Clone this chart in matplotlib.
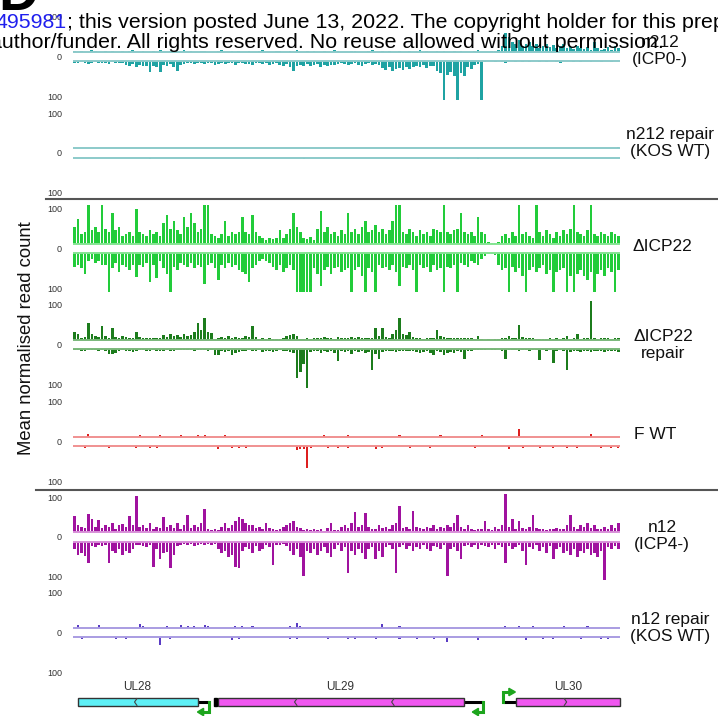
import numpy as np
import matplotlib
matplotlib.use("Agg")
import matplotlib.pyplot as plt
from matplotlib.patches import Rectangle, Polygon
from matplotlib.lines import Line2D

plt.rcParams['font.family'] = ['Liberation Sans', 'DejaVu Sans']

# ---------------------------------------------------------------- data
N_BINS = 160  # genome bins across the UL28-UL30 window

# Mean normalised read counts per bin (plus strand drawn up, minus strand down)
n212_plus = """
2 0 3 1 0 4 2 0 1 3  0 2 1 0 3 0 2 4 1 0  3 1 0 2 0 5 1 0 2 3  0 1 4 0 2 1 0 3 2 0
1 0 2 5 0 1 3 0 2 1  0 3 1 0 2 4 0 1 0 2  3 0 1 2 0 4 1 0 3 0  2 1 0 3 1 0 5 2 0 1
0 2 3 0 1 0 2 4 0 1  3 0 2 1 0 3 1 0 2 0  1 4 0 2 0 1 3 0 2 1  0 2 1 3 0 1 0 2 4 0
1 0 3 2 6 15 50 40 25 20  30 15 20 25 15 20 10 15 20 12  18 10 15 20 10 12 8 15 10 8
12 5 25 10 5 8 12 5 15 10
"""
n212_minus = """
4 6 3 5 8 4 3 6 5 4  7 3 5 4 6 10 12 8 15 10  12 14 28 12 15 28 10 12 8 15
25 10 8 6 5 8 4 6 8 6  5 10 7 5 8 6 4 9 6 5  8 7 10 6 5 8 6 9 7 5
10 12 8 15 25 12 10 14 8 12  10 8 15 10 12 9 11 8 6 8  10 7 5 9 12 8 6 10 7 9
18 22 15 25 20 18 24 16 20 15  12 15 10 18 12 14 25 30 100 35  28 40 100 30 40 15 20 10 8 100
2 0 1 3 0 2 5 1 0 2  1 3 0 2 0 1 3 0 2 1  0 2 5 1 0 1 3 0 2 1  0 2 1 0 3 1 0 2 1 0
"""
dicp22_plus = """
45 65 25 30 100 35 45 30 100 40  30 80 35 45 20 25 30 20 90 30  25 20 35 25 30 20 55 75 40 60
35 25 70 45 80 55 30 40 100 100  25 20 15 25 60 20 30 25 30 70  30 25 75 30 20 15 10 15 12 15
35 15 25 40 80 45 30 15 12 18  10 40 85 30 45 25 30 20 35 25  80 30 40 25 45 60 30 35 50 30
40 25 35 60 100 100 30 25 40 30  20 35 25 30 20 40 35 30 100 30  25 35 40 80 30 25 30 20 70 30
25 5 3 2 5 20 25 15 30 20  100 25 30 20 15 100 30 20 35 25  15 30 20 35 25 40 100 30 25 20
35 100 25 20 30 25 20 30 25 20
"""
dicp22_minus = """
35 30 40 55 20 15 25 20 30 30  100 40 25 50 30 35 45 30 62 30  35 25 75 30 65 20 40 55 100 35
45 25 30 35 25 40 30 35 80 30  25 40 70 30 40 25 35 30 45 50  55 75 40 30 20 15 20 25 35 45
30 50 40 30 45 100 100 100 100 100  40 55 85 45 35 55 40 35 50 45  40 100 45 35 60 100 40 50 100 30
40 35 45 30 50 85 35 40 30 45  100 30 40 35 50 30 45 40 100 35  40 30 100 25 30 35 20 25 30 15
8 3 2 5 30 45 40 100 35 50  40 60 100 45 35 50 40 30 55 45  100 50 45 40 100 60 100 55 45 60
70 50 100 55 45 60 40 50 100 45
"""
dicp22r_plus = """
20 15 5 8 43 15 10 8 35 10  5 32 8 6 10 8 6 5 20 8  5 4 5 6 4 5 12 8 15 10
12 8 15 10 12 20 45 25 57 20  18 3 5 8 4 10 5 8 4 6  10 8 35 8 3 5 3 4 2 3
2 5 10 12 15 10 3 2 4 3  5 6 4 8 5 6 3 8 5 6  4 7 5 8 6 5 6 4 32 10
32 8 6 15 25 57 15 12 20 8  5 4 3 5 6 4 27 10 8 5  6 4 5 6 4 5 6 3 10 2
1 2 1 2 3 5 6 10 4 5  38 8 5 6 4 3 2 3 2 4  3 5 3 4 10 3 4 15 3 5
4 100 5 3 6 4 5 3 6 4
"""
dicp22r_minus = """
3 2 4 5 2 3 2 4 3 5  13 13 10 4 3 5 4 8 6 3  2 4 6 3 5 4 6 3 5 4
3 2 3 2 3 4 2 3 2 4  3 15 15 6 8 5 15 10 8 5  6 3 5 4 3 8 5 4 8 5
3 5 4 8 10 75 60 40 100 8  5 6 10 5 8 6 10 30 6 8  4 12 5 8 6 10 8 55 12 25
8 5 6 4 8 5 6 4 5 6  8 10 8 6 10 15 6 8 15 10  8 10 6 8 25 6 4 3 2 3
2 1 2 3 1 4 25 3 2 3  4 2 3 4 2 3 28 3 4 2  35 4 3 5 55 8 6 5 8 6
4 8 5 6 4 8 5 6 4 7
"""
n12_plus = """
42 20 15 12 48 35 15 33 12 20  15 25 10 18 22 15 42 20 94 15  18 12 25 10 15 12 40 15 20 12
25 10 18 45 12 20 15 25 60 8  5 10 6 15 25 12 20 30 40 35  25 18 20 12 15 10 25 12 10 5
8 15 20 25 30 15 12 5 8 6  10 5 8 4 12 25 6 5 15 20  12 25 52 15 20 50 15 10 8 20
12 15 10 18 25 70 12 15 10 55  15 12 10 15 12 18 10 15 12 20  15 25 45 15 10 20 8 5 10 8
30 10 5 15 10 20 100 15 35 10  30 12 8 15 45 12 8 10 6 10  8 12 10 8 20 45 15 10 20 15
25 12 20 10 8 15 10 20 12 25
"""
n12_minus = """
20 35 30 38 55 12 15 10 12 8  55 25 30 20 35 25 30 20 10 8  12 15 10 66 20 45 30 28 70 35
12 8 5 10 6 12 8 5 10 6  8 5 20 30 25 40 35 66 70 25  15 20 30 12 25 18 10 15 60 8
10 5 12 25 35 20 40 90 25 30  20 35 25 15 30 40 20 10 25 15  82 25 35 20 30 45 20 15 45 25
40 15 10 20 82 15 10 20 12 25  15 20 10 18 25 12 15 20 10 90  20 15 25 45 12 10 15 8 20 10
12 15 8 18 10 15 55 12 20 15  10 25 60 15 20 10 25 15 30 12  45 20 15 30 25 35 20 40 25 30
20 35 30 40 25 100 15 20 12 18
"""

# Sparse tracks: (bin, value) pairs
n212r_plus_bins = [159]
n212r_plus_vals = [3]
n212r_minus_bins = [22, 67, 112, 118]
n212r_minus_vals = [3, 3, 3, 3]

fwt_plus_bins = [4, 19, 25, 31, 36, 38, 44, 73, 80, 95, 107, 119, 130, 151]
fwt_plus_vals = [8, 4, 4, 4, 4, 4, 4, 4, 4, 4, 4, 4, 20, 8]
fwt_minus_bins = [3, 10, 18, 22, 24, 42, 46, 48, 50, 65, 66, 67, 68, 69, 74, 77, 80,
                  88, 90, 98, 104, 117, 127, 131, 136, 140, 144, 147, 154, 157, 159]
fwt_minus_vals = [4, 4, 6, 4, 5, 8, 4, 4, 4, 10, 8, 8, 58, 4, 4, 4, 4,
                  8, 4, 4, 4, 6, 8, 4, 5, 4, 5, 5, 4, 4, 4]

n12r_plus_bins = [1, 7, 19, 20, 27, 31, 33, 35, 38, 39, 47, 49, 52, 63, 65, 66,
                  90, 95, 126, 130, 134, 143, 150]
n12r_plus_vals = [8, 8, 10, 4, 4, 8, 4, 6, 8, 4, 4, 4, 4, 4, 12, 4,
                  10, 4, 4, 4, 4, 4, 4]
n12r_minus_bins = [2, 12, 15, 25, 28, 46, 48, 63, 65, 74, 80, 82, 88, 95, 100,
                   105, 109, 118, 132, 137, 140, 148, 154, 156]
n12r_minus_vals = [4, 5, 4, 20, 4, 8, 4, 4, 6, 4, 4, 4, 4, 4, 6,
                   6, 12, 8, 8, 4, 4, 4, 4, 4]

track_labels = ["n212\n(ICP0-)", "n212 repair\n(KOS WT)", "\u0394ICP22",
                "\u0394ICP22\nrepair", "F WT", "n12\n(ICP4-)", "n12 repair\n(KOS WT)"]
tick_labels = ["100", "0", "100"]

gene_names = ["UL28", "UL29", "UL30"]
gene_start = [0.9, 41.8, 129.0]
gene_end = [36.0, 114.0, 159.6]
gene_strand = ["-", "-", "+"]


def parse(s):
    return np.array(s.split(), dtype=float)


def dense(s):
    v = parse(s)
    return np.arange(len(v)), v


tracks = [
    (dense(n212_plus), dense(n212_minus), "#1fa3a3", "#8ccaca", 0.8),
    ((np.array(n212r_plus_bins), np.array(n212r_plus_vals, float)),
     (np.array(n212r_minus_bins), np.array(n212r_minus_vals, float)), "#1fa3a3", "#8ccaca", 0.6),
    (dense(dicp22_plus), dense(dicp22_minus), "#22cc3a", "#86e494", 0.75),
    (dense(dicp22r_plus), dense(dicp22r_minus), "#1c7c1c", "#7ab87a", 0.75),
    ((np.array(fwt_plus_bins), np.array(fwt_plus_vals, float)),
     (np.array(fwt_minus_bins), np.array(fwt_minus_vals, float)), "#dd1f1f", "#f09090", 0.6),
    (dense(n12_plus), dense(n12_minus), "#a0129f", "#d890d8", 0.75),
    ((np.array(n12r_plus_bins), np.array(n12r_plus_vals, float)),
     (np.array(n12r_minus_bins), np.array(n12r_minus_vals, float)), "#5a3cc4", "#a99ce2", 0.6),
]

# ---------------------------------------------------------------- layout
W, H = 718, 716
fig = plt.figure(figsize=(W / 100, H / 100), dpi=100)


def fx(px):
    return px / W


def fy(py):
    return 1 - py / H


PX_PER_UNIT = 0.384
HALF = 125
GAP = 12
AX_L, AX_R = 73, 620
centers = [56.5, 153, 248.5, 344.5, 441.5, 537, 632.5]
label_pos = [(660, 51), (670, 143), (662, 247), (663, 345), (655, 435), (662, 536), (670, 628)]

for (plus, minus, bar_c, line_c, w), yc, lab, lp in zip(tracks, centers, track_labels, label_pos):
    hpx = 2 * HALF * PX_PER_UNIT
    ax = fig.add_axes([fx(AX_L), fy(yc + hpx / 2), (AX_R - AX_L) / W, hpx / H])
    ax.set_xlim(-0.5, N_BINS - 0.5)
    ax.set_ylim(-HALF, HALF)
    ax.bar(plus[0], plus[1], width=w, bottom=GAP, color=bar_c, linewidth=0, zorder=2)
    ax.bar(minus[0], -minus[1], width=w, bottom=-GAP, color=bar_c, linewidth=0, zorder=2)
    ax.axhline(GAP, color=line_c, lw=1.4, zorder=3)
    ax.axhline(-GAP, color=line_c, lw=1.4, zorder=3)
    ax.set_yticks([104, 0, -104])
    ax.set_yticklabels(tick_labels)
    ax.tick_params(axis="y", length=0, pad=8, labelsize=6.5, labelcolor="#333333")
    ax.set_xticks([])
    for sp in ax.spines.values():
        sp.set_visible(False)
    ax.patch.set_alpha(0)
    fig.text(fx(lp[0]), fy(lp[1]), lab, ha="center", va="center", fontsize=12.5,
             linespacing=1.15, color="#111111", zorder=4)

# group separators
fig.add_artist(Line2D([fx(46), 1], [fy(198.5)] * 2, color="#555555", lw=1.5))
fig.add_artist(Line2D([fx(36), 1], [fy(489.5)] * 2, color="#555555", lw=1.5))

fig.text(fx(27), fy(338), "Mean normalised read count", rotation=90,
         ha="center", va="center", fontsize=13.3, color="#111111")

# ---------------------------------------------------------------- gene map
gax = fig.add_axes([fx(AX_L), fy(716), (AX_R - AX_L) / W, 38 / H])
gax.set_xlim(-0.5, N_BINS - 0.5)
gax.set_ylim(38, 0)
gax.axis("off")

gene_colors = ["#5ef0f6", "#f057f0", "#f057f0"]
label_x = [18.4, 77.5, 144.4]
chevrons = [[17.5], [64.3, 92.7], [143.9]]
for name, s, e, st, c, lx, chs in zip(gene_names, gene_start, gene_end, gene_strand,
                                      gene_colors, label_x, chevrons):
    gax.add_patch(Rectangle((s, 20), e - s, 8, facecolor=c, edgecolor="#333333",
                            lw=1.0, zorder=2, clip_on=False))
    gax.text(lx, 9, name, ha="center", va="center", fontsize=8.5, color="#333333")
    for ch in chs:
        d = 0.7 if st == "-" else -0.7
        gax.plot([ch + d, ch, ch + d], [20.6, 24, 27.4], color="#444444", lw=0.8, zorder=3)

green = "#1da51d"
# UL28 promoter (leftward)
gax.plot([36.0, 39.2], [24, 24], color="black", lw=2.2, solid_capstyle="butt", zorder=1)
gax.plot([39.2, 39.2, 37.4], [24, 34, 34], color=green, lw=2.2, zorder=3,
         solid_joinstyle="miter", clip_on=False)
gax.add_patch(Polygon([[35.9, 34], [37.7, 30.3], [37.7, 37.7]], closed=True,
                      color=green, zorder=3, clip_on=False))
# UL29 3' block and promoter
gax.add_patch(Rectangle((40.6, 20), 0.9, 8, color="black", zorder=2))
gax.plot([114.0, 119.4], [24, 24], color="black", lw=2.2, solid_capstyle="butt", zorder=1)
gax.plot([119.4, 119.4, 117.8], [24, 34, 34], color=green, lw=2.2, zorder=3,
         solid_joinstyle="miter", clip_on=False)
gax.add_patch(Polygon([[116.3, 34], [118.1, 30.3], [118.1, 37.7]], closed=True,
                      color=green, zorder=3, clip_on=False))
# UL30 promoter (rightward)
gax.plot([125.4, 129.0], [24, 24], color="black", lw=2.2, solid_capstyle="butt", zorder=1)
gax.plot([125.4, 125.4, 127.2], [24, 14, 14], color=green, lw=2.2, zorder=3,
         solid_joinstyle="miter")
gax.add_patch(Polygon([[128.9, 14], [127.0, 10.3], [127.0, 17.7]], closed=True,
                      color=green, zorder=3))

# ---------------------------------------------------------------- header
fig.text(fx(-2), fy(10), "D", fontsize=40, fontweight="bold", va="baseline",
         color="black", zorder=5)
t1 = fig.text(fx(-4), fy(28), "495981", fontsize=15.4, color="#1f1fee",
              va="baseline", zorder=5)
renderer = fig.canvas.get_renderer()
bb = t1.get_window_extent(renderer=renderer)
fig.text(bb.x1 / W, fy(28), "; this version posted June 13, 2022. The copyright holder for this preprint",
         fontsize=15.4, color="black", va="baseline", zorder=5)
fig.text(fx(-10), fy(48), "author/funder. All rights reserved. No reuse allowed without permission.",
         fontsize=15.4, color="black", va="baseline", zorder=5)

fig.savefig("out.png", dpi=100)
